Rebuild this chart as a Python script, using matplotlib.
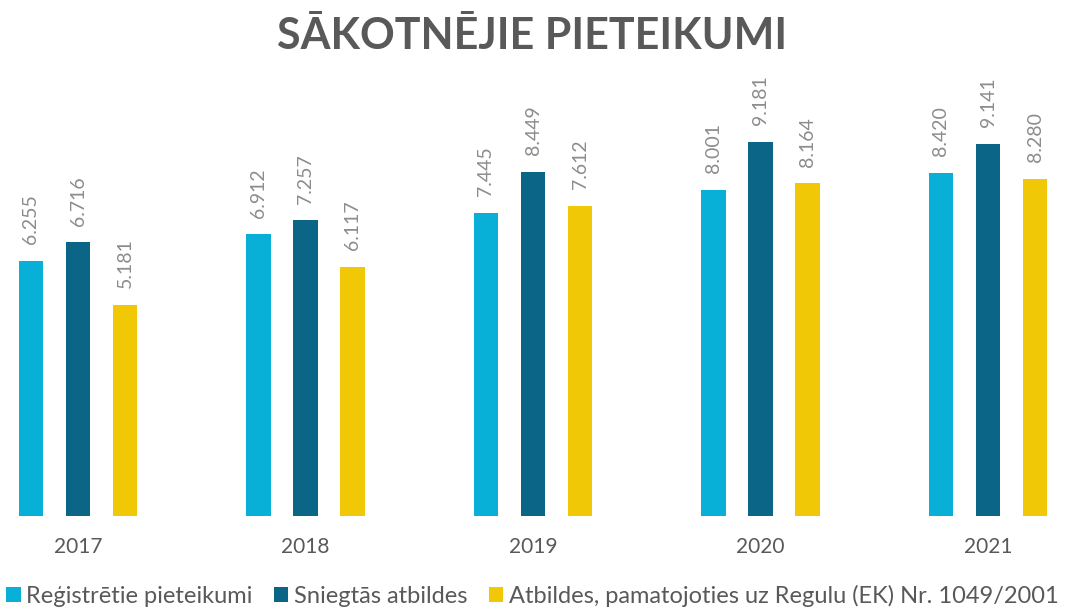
import matplotlib
matplotlib.use("Agg")
import matplotlib.pyplot as plt
import numpy as np

years = ["2017", "2018", "2019", "2020", "2021"]
registered = [6255, 6912, 7445, 8001, 8420]
answered = [6716, 7257, 8449, 9181, 9141]
reg_1049 = [5181, 6117, 7612, 8164, 8280]
series_names = ["Reģistrētie pieteikumi", "Sniegtās atbildes",
                "Atbildes, pamatojoties uz Regulu (EK) Nr. 1049/2001"]
colors = ["#08AFD6", "#0B6586", "#F0C806"]

plt.rcParams["font.family"] = ["Lato", "DejaVu Sans"]

fig = plt.figure(figsize=(10.65, 6.08), dpi=100)
ax = fig.add_axes([0, 92 / 608, 1, 436 / 608])

x = np.arange(len(years))
width = 0.106
offset = 0.2066

for i, (vals, col, name) in enumerate(zip([registered, answered, reg_1049], colors, series_names)):
    pos = x + (i - 1) * offset
    bars = ax.bar(pos, vals, width=width, color=col, label=name)
    for b, v in zip(bars, vals):
        ax.annotate(f"{v:,}".replace(",", "."),
                    (b.get_x() + b.get_width() / 2, b.get_height()),
                    xytext=(0, 12), textcoords="offset points",
                    rotation=90, ha="center", va="bottom",
                    fontsize=14, color="#8C8C8C")

ax.set_xlim(-78 / 227.5, (1065 - 78) / 227.5)
ax.set_ylim(0, 10700)
ax.set_xticks(x)
ax.set_xticklabels(years, fontsize=15, color="#595959")
ax.tick_params(axis="x", length=0, pad=15)
ax.set_yticks([])
for s in ax.spines.values():
    s.set_visible(False)

fig.text(0.5, 0.94, "SĀKOTNĒJIE PIETEIKUMI", ha="center", va="center",
         fontsize=31, fontweight="bold", color="#595959")

fig.legend(loc="center", bbox_to_anchor=(0.5, 0.02), ncol=3, frameon=False,
           fontsize=17, handlelength=0.6, handleheight=0.6, handletextpad=0.25,
           columnspacing=0.9, labelcolor="#595959")

fig.savefig("out.png", dpi=100)
